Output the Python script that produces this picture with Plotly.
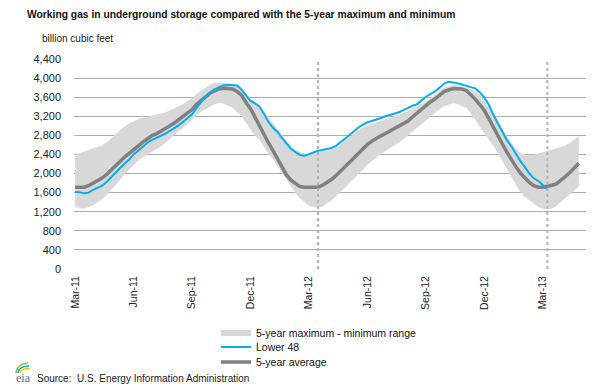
import pandas as pd
import plotly.graph_objects as go

# ---------------- data (weekly) ----------------
start_date = "2011-03-04"
n_weeks = 113
weeks = pd.date_range(start_date, periods=n_weeks, freq="7D")

five_year_max = [
    2392, 2430, 2470, 2500, 2530, 2555, 2590, 2650, 2740, 2820,
    2910, 2990, 3050, 3100, 3140, 3162, 3185, 3205, 3230, 3255,
    3280, 3315, 3360, 3410, 3455, 3520, 3580, 3670, 3730, 3800,
    3860, 3900, 3905, 3895, 3880, 3860, 3860, 3760, 3660, 3580,
    3480, 3420, 3310, 3150, 3060, 2930, 2800, 2671, 2560, 2490,
    2450, 2420, 2410, 2420, 2440, 2460, 2480, 2505, 2550, 2610,
    2690, 2770, 2840, 2900, 2960, 3010, 3040, 3070, 3110, 3140,
    3170, 3200, 3230, 3270, 3310, 3360, 3400, 3450, 3510, 3580,
    3650, 3720, 3790, 3830, 3860, 3850, 3830, 3800, 3770, 3720,
    3650, 3530, 3380, 3220, 3090, 2930, 2780, 2660, 2520, 2440,
    2400, 2392, 2395, 2420, 2440, 2470, 2500, 2530, 2560, 2590,
    2640, 2700, 2776,
]

five_year_min = [
    1308, 1275, 1260, 1290, 1335, 1400, 1465, 1550, 1660, 1760,
    1880, 1995, 2085, 2180, 2270, 2335, 2390, 2445, 2490, 2560,
    2640, 2715, 2795, 2880, 2960, 3040, 3120, 3230, 3290, 3350,
    3406, 3450, 3476, 3470, 3430, 3380, 3290, 3200, 3070, 2930,
    2790, 2715, 2560, 2410, 2300, 2160, 2010, 1867, 1720, 1590,
    1482, 1400, 1330, 1300, 1280, 1310, 1380, 1430, 1530, 1620,
    1710, 1800, 1900, 1990, 2085, 2180, 2265, 2343, 2410, 2470,
    2525, 2580, 2650, 2720, 2800, 2875, 2950, 3040, 3126, 3200,
    3266, 3340, 3410, 3440, 3470, 3455, 3410, 3371, 3260, 3120,
    2986, 2840, 2710, 2590, 2430, 2260, 2100, 1950, 1790, 1610,
    1510, 1430, 1370, 1300, 1260, 1255, 1265, 1320, 1400, 1490,
    1580, 1650, 1727,
]

five_year_avg = [
    1713, 1713, 1713, 1745, 1795, 1850, 1905, 1980, 2065, 2155,
    2250, 2345, 2415, 2495, 2575, 2655, 2730, 2790, 2830, 2880,
    2940, 2995, 3055, 3125, 3190, 3270, 3340, 3450, 3525, 3610,
    3685, 3735, 3770, 3785, 3785, 3772, 3720, 3640, 3490, 3360,
    3180, 2990, 2820, 2640, 2480, 2300, 2120, 1972, 1860, 1785,
    1727, 1715, 1713, 1713, 1713, 1755, 1810, 1875, 1955, 2050,
    2145, 2240, 2335, 2435, 2520, 2610, 2680, 2741, 2790, 2838,
    2890, 2945, 2980, 3030, 3100, 3185, 3265, 3355, 3435, 3500,
    3560, 3645, 3715, 3750, 3775, 3778, 3770, 3741, 3660, 3555,
    3441, 3320, 3150, 2960, 2776, 2620, 2450, 2287, 2145, 2010,
    1902, 1815, 1745, 1715, 1713, 1725, 1755, 1785, 1850, 1935,
    2020, 2110, 2217,
]

lower_48 = [
    1615, 1608, 1585, 1600, 1660, 1700, 1745, 1825, 1915, 2010,
    2115, 2210, 2290, 2400, 2480, 2565, 2640, 2700, 2738, 2775,
    2830, 2890, 2945, 3010, 3085, 3160, 3240, 3375, 3505, 3610,
    3699, 3765, 3810, 3846, 3858, 3858, 3845, 3760, 3640, 3520,
    3470, 3400, 3250, 3080, 2960, 2870, 2745, 2630, 2520, 2450,
    2385, 2371, 2405, 2450, 2476, 2495, 2510, 2535, 2580, 2650,
    2730, 2810, 2890, 2965, 3025, 3075, 3100, 3126, 3165, 3200,
    3228, 3255, 3285, 3330, 3380, 3420, 3450, 3530, 3610, 3665,
    3720, 3800, 3880, 3925, 3915, 3890, 3865, 3845, 3810, 3785,
    3699, 3590, 3440, 3230, 3060, 2880, 2700, 2570, 2420, 2260,
    2140, 2000, 1900, 1845, 1760, 1665,
]

tick_labels = ["Mar-11", "Jun-11", "Sep-11", "Dec-11", "Mar-12",
               "Jun-12", "Sep-12", "Dec-12", "Mar-13"]
tick_every = 13            # one label every 13 weeks
marker_weeks = [54, 105]   # weeks with the dotted vertical markers
y_ticks = list(range(0, 4401, 400))

# ---------------- figure ----------------
FONT = "Liberation Sans, Arial, sans-serif"
BLUE = "rgb(0,174,239)"
GREY = "rgb(128,128,128)"
BAND = "rgb(216,216,216)"
GRID = "rgb(176,170,170)"

fig = go.Figure()

fig.add_trace(go.Scatter(x=weeks, y=five_year_min, mode="lines",
                         line=dict(width=0, color=BAND), showlegend=False,
                         hoverinfo="skip"))
fig.add_trace(go.Scatter(x=weeks, y=five_year_max, mode="lines",
                         line=dict(width=0, color=BAND), fill="tonexty",
                         fillcolor=BAND, showlegend=False, hoverinfo="skip"))
# legend entry for the band
fig.add_trace(go.Scatter(x=[None], y=[None], mode="lines",
                         name="5-year maximum - minimum range",
                         line=dict(width=6, color=BAND), legend="legend"))
fig.add_trace(go.Scatter(x=weeks, y=five_year_avg, mode="lines",
                         name="5-year average",
                         line=dict(width=3.5, color=GREY), legend="legend3"))
fig.add_trace(go.Scatter(x=weeks[:len(lower_48)], y=lower_48, mode="lines",
                         name="Lower 48",
                         line=dict(width=2, color=BLUE), legend="legend2"))

for w in marker_weeks:
    fig.add_shape(type="line", xref="x", yref="paper",
                  x0=weeks[w], x1=weeks[w], y0=0, y1=1,
                  line=dict(color="rgb(180,180,180)", width=2, dash="dot"),
                  layer="above")

week = pd.Timedelta(days=7)
fig.update_xaxes(
    range=[weeks[0] - 0.25 * week, weeks[0] + 113.6 * week],
    tickvals=list(weeks[::tick_every]), ticktext=tick_labels,
    tickangle=-90, showgrid=False, zeroline=False, showline=False,
    ticks="", ticklabelstandoff=4, automargin=False,
    tickfont=dict(family=FONT, size=10.5, color="#222"),
)
fig.update_yaxes(
    range=[0, 4400], tickvals=y_ticks, tickformat=",d",
    showgrid=True, gridcolor=GRID, gridwidth=1, zeroline=False,
    showline=False, ticks="", ticklabelstandoff=12, automargin=False,
    tickfont=dict(family=FONT, size=11, color="#222"),
)


def px2paper(px, py):
    return (px - 74) / 512, (269 - py) / 210


def arc(p0, c, p1):
    a = px2paper(*p0)
    b = px2paper(*c)
    d = px2paper(*p1)
    return f"M {a[0]},{a[1]} Q {b[0]},{b[1]} {d[0]},{d[1]}"


for (p0, c, p1), col in [(((16, 373), (17, 364), (28, 363)), "rgb(125,194,66)"),
                         (((18, 373), (19, 366), (29, 366)), "rgb(0,169,224)"),
                         (((20, 373), (21, 368), (30, 369)), "rgb(247,200,14)")]:
    fig.add_shape(type="path", xref="paper", yref="paper", path=arc(p0, c, p1),
                  line=dict(color=col, width=1.5))


def legend_at(py):
    return dict(x=(216 - 74) / 512, y=(269 - py) / 210, xanchor="left",
                yanchor="middle", bgcolor="rgba(0,0,0,0)", itemwidth=30,
                font=dict(family=FONT, size=10.5, color="#111"))


fig.update_layout(
    width=599, height=387,
    margin=dict(l=74, r=13, t=59, b=118, autoexpand=False),
    paper_bgcolor="white", plot_bgcolor="white",
    font=dict(family=FONT, color="#222"),
    title=dict(text="<b>Working gas in underground storage compared with the 5-year maximum and minimum</b>",
               x=27 / 599, xref="container", xanchor="left",
               y=1 - 14 / 387, yref="container", yanchor="middle",
               font=dict(family=FONT, size=10.3, color="#111")),
    legend=legend_at(333),
    legend2=legend_at(347),
    legend3=legend_at(362),
    annotations=[
        dict(text="billion cubic feet", xref="paper", yref="paper",
             x=px2paper(40, 39)[0], y=px2paper(40, 39)[1],
             xanchor="left", yanchor="middle", showarrow=False,
             font=dict(family=FONT, size=10, color="#222")),
        dict(text="Source:  U.S. Energy Information Administration",
             xref="paper", yref="paper",
             x=px2paper(35, 378)[0], y=px2paper(35, 378)[1],
             xanchor="left", yanchor="middle", showarrow=False,
             font=dict(family=FONT, size=10, color="#222")),
        dict(text="eia", xref="paper", yref="paper",
             x=px2paper(14, 378)[0], y=px2paper(14, 378)[1],
             xanchor="left", yanchor="middle", showarrow=False,
             font=dict(family="Liberation Serif, serif", size=12,
                       color="rgb(96,112,140)")),
    ],
)

fig.write_html("out.html", config={"displayModeBar": False},
               post_script="document.body.style.margin='0';"
                           "document.body.style.padding='0';")
